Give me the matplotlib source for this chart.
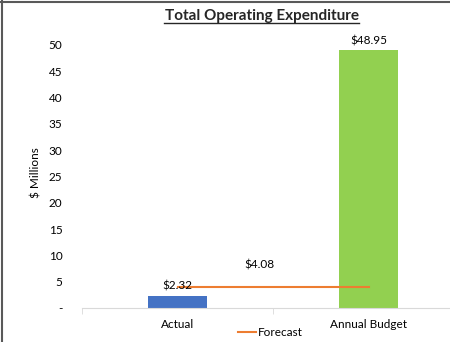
import matplotlib.pyplot as plt
from matplotlib.lines import Line2D

plt.rcParams['font.family'] = ['Lato', 'DejaVu Sans']

categories = ["Actual", "Annual Budget"]
values = [2.32, 48.95]
bar_colors = ["#4472C4", "#92D050"]
forecast = 4.08
yticks = [0, 5, 10, 15, 20, 25, 30, 35, 40, 45, 50]
ytick_labels = ["-"] + [str(v) for v in yticks[1:]]

fig = plt.figure(figsize=(4.5, 3.42), dpi=100)
ax = fig.add_axes([82 / 450, 1 - 308 / 342, 382 / 450, 271 / 342])

xpos = [0, 1]
ax.bar(xpos, values, width=0.31, color=bar_colors, zorder=2)
ax.plot(xpos, [forecast, forecast], color="#ED7D31", lw=1.5, zorder=3)

for x, v in zip(xpos, values):
    ax.text(x, v + 0.8, "$%.2f" % v, ha="center", va="bottom", fontsize=8.5)
ax.text(0.43, forecast + 3.0, "$%.2f" % forecast, ha="center", va="bottom", fontsize=8.5)

ax.set_xlim(-0.5, 1.5)
ax.set_ylim(0, 51.5)
ax.set_yticks(yticks)
ax.set_yticklabels(ytick_labels, fontsize=8.5)
ax.set_xticks(xpos)
ax.set_xticklabels(categories, fontsize=8.5)
ax.set_xticks([-0.5, 0.5, 1.5], minor=True)
ax.tick_params(axis="x", which="major", length=0, pad=8)
ax.tick_params(axis="x", which="minor", length=4, color="#D9D9D9")
ax.tick_params(axis="y", length=0, pad=14)
for lab in ax.get_yticklabels():
    lab.set_horizontalalignment("right")
for s in ["top", "right", "left"]:
    ax.spines[s].set_visible(False)
ax.spines["bottom"].set_color("#D9D9D9")
ax.set_ylabel("$ Millions", fontsize=8.5, labelpad=5)

fig.text(262 / 450, 1 - 16 / 342, "Total Operating Expenditure", ha="center",
         va="center", fontsize=11, fontweight="bold", color="#262626")
fig.add_artist(Line2D([164 / 450, 359 / 450], [1 - 23 / 342, 1 - 23 / 342],
                      color="#262626", lw=1))

handle = Line2D([], [], color="#ED7D31", lw=1.5)
fig.legend([handle], ["Forecast"], loc="center", bbox_to_anchor=(270 / 450, 1 - 333 / 342),
           frameon=False, fontsize=8.5, handlelength=1.6, handletextpad=0.1)

# sheet border
fig.add_artist(Line2D([1.5 / 450, 1.5 / 450], [0, 1], color="#595959", lw=1.5))
fig.add_artist(Line2D([0, 1], [1 - 1.5 / 342, 1 - 1.5 / 342], color="#595959", lw=1.5))

fig.savefig("out.png", dpi=100)
